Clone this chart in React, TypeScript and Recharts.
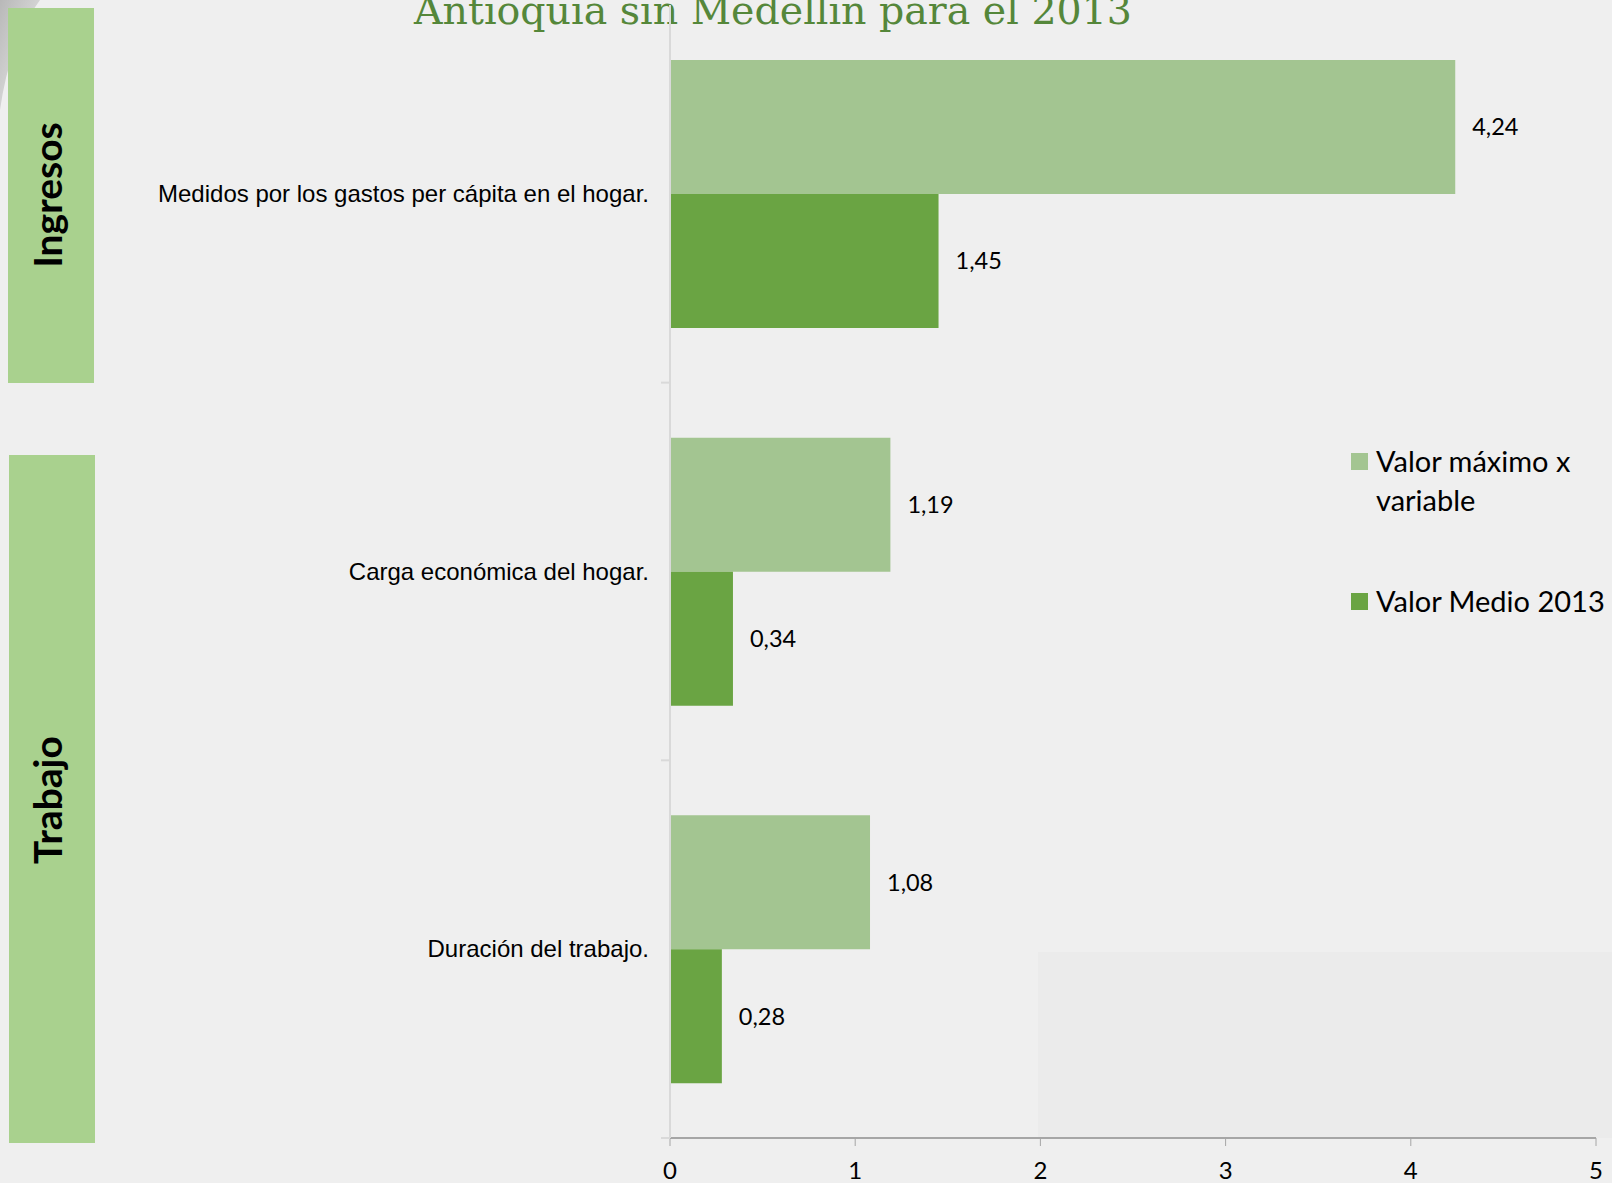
import React from 'react';
import { BarChart, Bar, XAxis, YAxis, Legend, LabelList } from 'recharts';

const categories = [
  'Medidos por los gastos per cápita en el hogar.',
  'Carga económica del hogar.',
  'Duración del trabajo.',
];
const maxValues = [4.24, 1.19, 1.08];
const meanValues = [1.45, 0.34, 0.28];
const xTicks = [0, 1, 2, 3, 4, 5];
const seriesNames = ['Valor máximo x variable', 'Valor Medio 2013'];
const groups = ['Ingresos', 'Trabajo'];

const data = categories.map((c, i) => ({ name: c, max: maxValues[i], mean: meanValues[i] }));

const LIGHT = '#a3c591';
const DARK = '#6aa443';
const BG = '#efefef';

const fmt = (v: any) => String(v.toFixed ? v.toFixed(2) : v).replace('.', ',');

const YTick = (props: any) => {
  const { x, y, payload } = props;
  const half = payload && payload.offset ? payload.offset : 189;
  return (
    <g>
      <text x={x} y={y} dy={8} textAnchor="end" fontFamily="Liberation Sans, Arial, sans-serif" fontSize={24} fill="#000">
        {payload.value}
      </text>
      <line x1={x + 12} x2={x + 21} y1={y + half} y2={y + half} stroke="#d9d9d9" strokeWidth={2} />
    </g>
  );
};

const LegendContent = () => (
  <div style={{ fontFamily: 'Lato, sans-serif', fontSize: 29, color: '#000', lineHeight: '39px' }}>
    {seriesNames.map((n, i) => (
      <div key={n} style={{ display: 'flex', alignItems: 'flex-start', marginBottom: i === 0 ? 62 : 0 }}>
        <div style={{ width: 17, height: 17, background: i === 0 ? LIGHT : DARK, marginTop: 12, marginRight: 8, flex: 'none' }} />
        <div style={{ width: 236 }}>{n}</div>
      </div>
    ))}
  </div>
);

export default function App() {
  return (
    <div style={{ position: 'absolute', left: 0, top: 0, width: 1612, height: 1183, background: BG, overflow: 'hidden' }}>
      <svg style={{ position: 'absolute', left: 0, top: 0 }} width={60} height={120}>
        <defs>
          <linearGradient id="sw" x1="0" y1="0" x2="1" y2="1">
            <stop offset="0" stopColor="#b8b8b8" />
            <stop offset="1" stopColor={BG} />
          </linearGradient>
        </defs>
        <path d="M0,0 L40,0 Q10,40 0,110 Z" fill="url(#sw)" />
      </svg>
      <div style={{ position: 'absolute', left: 1038, top: 952, width: 574, height: 186, background: '#ebebeb' }} />
      <div style={{ position: 'absolute', left: 8, top: 8, width: 86, height: 375, background: '#a9d18e' }} />
      <div style={{ position: 'absolute', left: 9, top: 455, width: 86, height: 688, background: '#a9d18e' }} />
      {groups.map((g, i) => (
        <div
          key={g}
          style={{
            position: 'absolute',
            left: 47,
            top: i === 0 ? 195 : 800,
            transform: 'translate(-50%, -50%) rotate(-90deg)',
            fontFamily: 'Lato, sans-serif',
            fontWeight: 700,
            fontSize: 39,
            color: '#000',
            whiteSpace: 'nowrap',
          }}
        >
          {g}
        </div>
      ))}
      <div
        style={{
          position: 'absolute',
          left: 0,
          width: 1546,
          top: -13,
          textAlign: 'center',
          fontFamily: 'DejaVu Serif, serif',
          fontSize: 39.5,
          color: '#55873a',
          whiteSpace: 'nowrap',
        }}
      >
        Antioquia sin Medellín para el 2013
      </div>
      <div style={{ position: 'absolute', left: 0, top: 0 }}>
        <BarChart
          width={1612}
          height={1183}
          data={data}
          layout="vertical"
          margin={{ top: 5, right: 16, bottom: 0, left: 0 }}
          barGap={0}
        >
          <XAxis
            type="number"
            domain={[0, 5]}
            ticks={xTicks}
            height={45}
            axisLine={{ stroke: '#a6a6a6', strokeWidth: 2 }}
            tickLine={{ stroke: '#a6a6a6' }}
            tickSize={8}
            tick={{ fontFamily: 'Lato, sans-serif', fontSize: 24, fill: '#000' }}
            tickMargin={16}
            interval={0}
          />
          <YAxis
            type="category"
            dataKey="name"
            width={670}
            axisLine={{ stroke: '#d9d9d9', strokeWidth: 2 }}
            tickLine={false}
            tickMargin={15}
            tick={<YTick />}
            interval={0}
          />
          <Legend
            layout="vertical"
            align="center"
            verticalAlign="middle"
            content={<LegendContent />}
            wrapperStyle={{ position: 'absolute', left: 1351, top: 441, width: 261 }}
          />
          <Bar dataKey="max" name={seriesNames[0]} fill={LIGHT} barSize={134} isAnimationActive={false}>
            <LabelList dataKey="max" position="right" offset={17} formatter={fmt} style={{ fontFamily: 'Lato, sans-serif', fontSize: 23.5, fill: '#000' }} />
          </Bar>
          <Bar dataKey="mean" name={seriesNames[1]} fill={DARK} barSize={134} isAnimationActive={false}>
            <LabelList dataKey="mean" position="right" offset={17} formatter={fmt} style={{ fontFamily: 'Lato, sans-serif', fontSize: 23.5, fill: '#000' }} />
          </Bar>
        </BarChart>
      </div>
    </div>
  );
}
